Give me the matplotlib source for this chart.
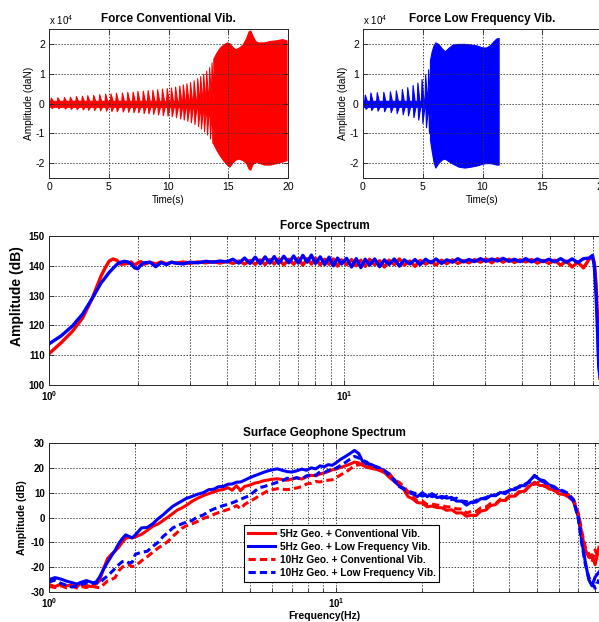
import numpy as np
import matplotlib
matplotlib.use("Agg")
import matplotlib.pyplot as plt
from matplotlib.ticker import NullFormatter, LogLocator

plt.rcParams['font.family'] = ['Liberation Sans', 'DejaVu Sans']
plt.rcParams['mathtext.fontset'] = 'custom'
plt.rcParams['mathtext.rm'] = 'Liberation Sans'
plt.rcParams['mathtext.bf'] = 'Liberation Sans:bold'
plt.rcParams['mathtext.it'] = 'Liberation Sans:italic'
plt.rcParams['axes.unicode_minus'] = False

# ---------------- data: force time series (units of 1e4 daN) ----------------
conv_spike_t = [0.15, 0.7, 1.25, 1.75, 2.25, 2.75, 3.2, 3.7, 4.2, 4.7, 5.15, 5.6, 6.1, 6.55,
                7.0, 7.4, 7.85, 8.25, 8.65, 9.05, 9.45, 9.85, 10.2, 10.55, 10.9, 11.2, 11.5,
                11.8, 12.1, 12.4, 12.65, 12.9, 13.15, 13.4, 13.6]
conv_spike_up = [0.2, 0.21, 0.22, 0.23, 0.25, 0.26, 0.28, 0.29, 0.31, 0.33, 0.34, 0.36, 0.37,
                 0.39, 0.4, 0.42, 0.43, 0.45, 0.46, 0.48, 0.5, 0.52, 0.54, 0.57, 0.6, 0.64,
                 0.68, 0.72, 0.78, 0.85, 0.92, 1.0, 1.1, 1.22, 1.38]
conv_spike_low = [-0.15, -0.16, -0.17, -0.18, -0.19, -0.2, -0.21, -0.22, -0.23, -0.24, -0.25,
                  -0.26, -0.27, -0.28, -0.29, -0.3, -0.32, -0.33, -0.35, -0.37, -0.39, -0.41,
                  -0.43, -0.46, -0.5, -0.54, -0.58, -0.63, -0.69, -0.76, -0.84, -0.93, -1.04,
                  -1.17, -1.32]
conv_env_t = [13.75, 14.0, 14.3, 14.6, 14.9, 15.1, 15.35, 15.6, 15.9, 16.2, 16.5, 16.7, 16.85,
              17.0, 17.25, 17.5, 18.0, 18.5, 19.0, 19.5, 19.88]
conv_env_up = [1.5, 1.7, 1.88, 1.98, 2.05, 2.02, 1.9, 1.82, 1.88, 1.98, 2.2, 2.42, 2.45, 2.3,
               2.1, 2.05, 2.05, 2.1, 2.12, 2.16, 2.12]
conv_env_low = [-1.35, -1.55, -1.75, -1.92, -2.05, -2.12, -1.98, -1.88, -1.85, -1.9, -2.0,
                -2.18, -2.22, -2.05, -1.95, -1.98, -2.05, -2.05, -2.0, -1.95, -1.9]

lf_spike_t = [0.15, 0.62, 1.15, 1.7, 2.25, 2.75, 3.25, 3.7, 4.15, 4.55, 4.9, 5.2, 5.45]
lf_spike_up = [0.3, 0.37, 0.38, 0.39, 0.41, 0.44, 0.49, 0.55, 0.62, 0.7, 0.82, 0.98, 1.15]
lf_spike_low = [-0.18, -0.22, -0.24, -0.26, -0.29, -0.32, -0.36, -0.4, -0.46, -0.54, -0.65,
                -0.8, -1.0]
lf_env_t = [5.6, 5.75, 5.9, 6.05, 6.3, 6.6, 6.85, 7.1, 7.5, 8.0, 8.5, 9.0, 9.5, 10.0, 10.3,
            10.6, 10.9, 11.15, 11.35]
lf_env_up = [1.45, 1.75, 1.95, 2.05, 2.0, 1.85, 1.75, 1.85, 1.98, 2.0, 2.0, 1.98, 1.95, 1.88,
             1.88, 1.95, 2.08, 2.18, 2.2]
lf_env_low = [-1.2, -1.6, -1.95, -2.15, -2.0, -1.88, -1.85, -1.92, -2.02, -2.12, -2.15, -2.12,
              -2.08, -2.02, -2.0, -2.0, -2.02, -2.05, -2.05]

time_ticks = [0, 5, 10, 15, 20]
force_ticks = [-2, -1, 0, 1, 2]

# ---------------- data: force spectrum (dB) ----------------
f_force = [1.0, 1.1, 1.2, 1.3, 1.4, 1.5, 1.55, 1.6, 1.65, 1.7,
           1.75, 1.8, 1.85, 1.9, 1.95, 2.0, 2.05, 2.1, 2.2, 2.3,
           2.4, 2.5, 2.6, 2.7, 2.85, 3.0, 3.2, 3.4, 3.6, 3.8,
           4.0, 4.2, 4.4, 4.6, 4.8, 5.0, 5.2, 5.4, 5.6, 5.8,
           6.0, 6.25, 6.5, 6.75, 7.0, 7.25, 7.5, 7.75, 8.0, 8.3,
           8.6, 8.9, 9.2, 9.5, 9.8, 10.2, 10.6, 11.0, 11.4, 11.8,
           12.2, 12.7, 13.2, 13.7, 14.2, 14.8, 15.4, 16.0, 16.7, 17.4,
           18.1, 18.9, 19.7, 20.5, 21.4, 22.3, 23.3, 24.3, 25.4, 26.5,
           27.7, 29.0, 30.3, 31.7, 33.1, 34.6, 36.2, 37.8, 39.5, 41.3,
           43.2, 45.2, 47.3, 49.5, 51.8, 54.2, 56.7, 59.3, 62.0, 64.8,
           67.8, 69.5, 70.5, 71.5, 72.3, 73.0, 73.8]
force_conv_db = [110.5, 114.2, 118.0, 122.5, 129.0, 136.5, 139.3, 141.6, 142.3, 141.8,
                 140.5, 140.6, 140.8, 141.3, 140.2, 141.0, 141.4, 140.5, 141.2, 140.6,
                 141.3, 140.7, 141.2, 140.9, 141.3, 140.8, 141.3, 141.0, 141.4, 140.9,
                 141.5, 140.8, 141.6, 140.6, 141.8, 140.5, 142.0, 140.4, 142.1, 140.6,
                 142.3, 140.3, 142.2, 140.5, 142.5, 140.2, 142.4, 140.6, 142.6, 140.3,
                 142.2, 140.5, 142.3, 139.9, 142.0, 140.4, 142.1, 140.0, 141.9, 139.8,
                 142.2, 140.3, 141.7, 139.6, 141.9, 140.4, 142.3, 140.2, 141.6, 139.8,
                 141.8, 140.6, 141.5, 140.3, 141.9, 140.7, 142.0, 140.8, 141.7, 141.0,
                 142.1, 141.2, 142.3, 141.0, 142.4, 141.2, 142.2, 141.1, 142.0, 141.3,
                 142.1, 140.9, 141.8, 140.8, 141.9, 140.2, 141.6, 139.6, 141.2, 139.3,
                 142.3, 143.0, 141.0, 134.0, 122.0, 108.0, 101.5]
force_lf_db = [113.8, 116.5, 119.8, 123.8, 129.0, 134.2, 136.0, 137.8, 139.2, 140.5,
               141.2, 141.5, 141.3, 140.6, 139.3, 139.0, 140.3, 141.0, 141.2, 139.7,
               141.1, 140.4, 141.2, 140.9, 140.6, 141.2, 141.0, 141.5, 141.2, 141.6,
               141.3, 142.2, 140.9, 142.6, 140.8, 142.9, 140.7, 143.0, 140.9, 143.1,
               140.8, 143.2, 141.0, 143.3, 140.9, 143.5, 141.2, 143.6, 140.8, 143.0,
               140.4, 142.9, 140.0, 142.6, 140.6, 142.5, 139.6, 142.4, 139.4, 142.2,
               140.2, 142.3, 139.7, 142.0, 140.4, 142.3, 139.9, 142.0, 140.6, 142.1,
               140.4, 142.2, 141.0, 142.3, 140.8, 142.0, 141.2, 142.4, 141.3, 142.1,
               141.4, 142.4, 141.5, 142.3, 141.6, 142.5, 141.5, 142.2, 141.4, 142.4,
               141.3, 142.3, 141.4, 142.2, 141.3, 142.4, 141.2, 142.3, 141.1, 142.4,
               142.6, 143.5, 140.0, 130.0, 118.0, 106.0, 102.5]
force_db_ticks = [100, 110, 120, 130, 140, 150]

# ---------------- data: surface geophone spectrum (dB) ----------------
f_geo = [1.0, 1.05, 1.1, 1.15, 1.2, 1.25, 1.3, 1.35, 1.4, 1.45, 1.5, 1.55, 1.6, 1.65, 1.7,
         1.75, 1.8, 1.85, 1.9, 1.95,
         2.0, 2.1, 2.2, 2.3, 2.4, 2.5, 2.6, 2.7, 2.8, 2.9, 3.0,
         3.15, 3.3, 3.45, 3.6, 3.75, 3.9, 4.05, 4.2, 4.35, 4.5, 4.65, 4.8,
         5.0, 5.2, 5.4, 5.6, 5.8, 6.0,
         6.25, 6.5, 6.75, 7.0,
         7.3, 7.6, 7.9, 8.2, 8.5, 8.8, 9.1, 9.4, 9.7, 10.0,
         10.4, 10.8, 11.2, 11.6, 12.0, 12.4, 12.8,
         13.3, 13.8, 14.3, 14.8,
         15.4, 16.0, 16.6, 17.2, 17.8,
         18.5, 19.2, 20.0, 20.8, 21.6, 22.5, 23.4, 24.3, 25.3, 26.3, 27.4, 28.5, 29.6, 30.8,
         32.0, 33.3, 34.6, 36.0, 37.4, 38.9, 40.5, 42.1, 43.8, 45.5, 47.3, 49.2, 51.2, 53.2,
         55.3, 57.5, 59.8, 62.2, 64.7, 67.3,
         70.0, 72.0, 74.0, 76.0, 78.0, 80.0, 82.5]
geo5_conv_db = [-27.0, -27.8, -26.8, -27.5, -27.2, -28.0, -26.2, -27.4, -27.8, -27.0, -25.5,
                -20.5, -16.5, -14.8, -13.5, -12.0, -10.0, -8.4, -8.0, -8.2,
                -7.8, -6.8, -5.2, -3.5, -2.6, -1.2, 0.2, 1.6, 3.0, 3.8, 4.8,
                6.5, 7.8, 8.8, 9.6, 10.3, 11.0, 11.3, 12.0, 11.0, 12.8, 10.8, 12.5,
                13.0, 13.8, 14.2, 14.8, 15.1, 15.4,
                15.6, 15.3, 15.0, 15.4,
                16.0, 15.5, 16.4, 17.0, 16.8, 17.5, 18.0, 18.5, 19.2, 19.5,
                20.2, 20.8, 21.5, 22.3, 22.0, 21.0, 20.2,
                19.8, 19.4, 18.8, 18.0,
                16.0, 14.5, 12.8, 11.5, 8.5,
                7.5, 6.0, 5.8, 4.3, 4.6, 4.0, 3.9, 2.9, 3.1, 1.8, 1.9, 0.5, 0.9, 0.8,
                2.6, 3.0, 4.8, 5.2, 7.0, 6.8, 8.6, 8.6, 10.4, 10.6, 12.6, 14.2, 12.9, 12.9,
                11.5, 11.1, 9.5, 9.3, 8.2, 6.6,
                1.0, -7.0, -13.0, -16.0, -15.0, -19.0, -12.0]
geo5_lf_db = [-25.0, -24.2, -24.8, -25.6, -26.2, -26.8, -26.0, -25.4, -26.0, -26.5, -24.0,
              -20.8, -18.0, -15.5, -13.2, -10.5, -8.5, -7.0, -7.6, -8.2,
              -7.0, -4.2, -4.0, -2.5, -0.5, 1.1, 2.9, 4.5, 5.6, 6.6, 7.6,
              8.5, 9.4, 10.0, 11.2, 11.4, 12.4, 12.5, 13.4, 13.5, 14.2, 14.3, 15.0,
              16.0, 16.8, 17.5, 18.2, 18.8, 19.2,
              19.6, 19.0, 18.5, 18.3,
              18.8, 19.5, 19.0, 20.0, 19.6, 20.8, 20.4, 21.3, 21.0, 22.0,
              23.5, 24.6, 25.8, 27.0, 25.8, 22.5, 21.5,
              21.3, 20.4, 19.6, 18.7,
              17.5, 14.5, 13.0, 11.8, 10.2,
              9.5, 8.4, 10.0, 8.4, 9.6, 8.0, 8.5, 7.8, 8.1, 6.6, 6.6, 5.0, 6.2, 6.2,
              7.6, 7.5, 8.8, 8.8, 10.1, 9.6, 11.2, 11.2, 12.8, 12.8, 14.8, 16.8, 15.3, 14.8,
              13.1, 12.5, 10.9, 10.5, 8.9, 6.5,
              0.0, -10.0, -18.0, -25.0, -27.5, -24.0, -22.0]
geo10_conv_db = [-27.7, -28.2, -27.5, -28.3, -27.6, -28.4, -27.8, -28.2, -27.5, -28.0, -28.3,
                 -27.0, -25.5, -25.0, -24.2, -21.5, -20.0, -19.2, -19.0, -19.8,
                 -19.5, -17.5, -15.8, -14.0, -12.3, -11.0, -9.6, -7.6, -6.0, -4.4, -3.4,
                 -2.6, -1.5, -0.4, 0.4, 1.2, 2.0, 2.6, 3.2, 3.8, 4.8, 3.5, 5.2,
                 6.5, 7.5, 8.8, 9.8, 10.8, 11.2,
                 11.6, 11.4, 11.2, 11.5,
                 11.9, 12.4, 13.5, 13.8, 14.5, 14.3, 14.8, 15.0, 15.2, 16.0,
                 17.2, 18.2, 19.5, 20.8, 21.2, 21.5, 20.8,
                 20.0, 19.6, 19.0, 18.5,
                 17.2, 15.0, 14.2, 12.5, 10.5,
                 8.4, 6.6, 6.6, 5.2, 5.4, 5.0, 4.8, 4.3, 4.2, 3.5, 3.4, 1.8, 2.4, 2.4,
                 3.9, 4.2, 5.6, 5.6, 7.4, 7.2, 9.0, 9.0, 10.8, 10.8, 13.0, 13.4, 14.1, 12.5,
                 12.5, 10.8, 10.5, 9.3, 9.1, 7.2,
                 1.5, -6.0, -12.0, -14.5, -18.0, -13.0, -17.0]
geo10_lf_db = [-26.0, -25.2, -26.5, -27.3, -28.0, -27.6, -27.0, -26.3, -26.8, -26.0, -26.5,
               -24.8, -23.5, -22.0, -20.5, -19.0, -17.8, -17.5, -18.3, -18.0,
               -14.8, -14.0, -13.6, -11.6, -10.0, -7.6, -6.0, -4.2, -3.3, -2.6, -1.9,
               -1.2, 0.3, 1.0, 2.5, 3.4, 4.2, 4.8, 5.3, 5.9, 6.6, 7.3, 8.0,
               8.8, 10.5, 12.0, 12.4, 13.0, 13.5,
               14.2, 14.8, 15.8, 15.6,
               16.0, 15.5, 16.8, 17.2, 17.0, 18.4, 18.0, 19.0, 19.3, 19.8,
               21.0, 22.2, 23.5, 24.6, 24.0, 23.0, 22.3,
               20.8, 20.5, 19.8, 18.8,
               16.5, 15.2, 12.5, 11.5, 10.8,
               10.0, 9.5, 8.6, 9.3, 8.4, 9.0, 7.8, 8.5, 7.2, 7.8, 6.6, 6.4, 5.6, 6.9,
               7.5, 8.0, 8.9, 9.0, 10.0, 10.2, 11.0, 11.8, 12.3, 13.4, 14.2, 17.0, 15.0, 14.2,
               13.0, 12.0, 11.4, 10.6, 9.6, 7.0,
               -1.0, -11.0, -19.0, -24.0, -26.5, -28.5, -25.0]
geo_db_ticks = [-30, -20, -10, 0, 10, 20, 30]
geo_labels = ["5Hz Geo. + Conventional Vib.", "5Hz Geo. + Low Frequency Vib.",
              "10Hz Geo. + Conventional Vib.", "10Hz Geo. + Low Frequency Vib."]

# ---------------- figure ----------------
W, H = 599, 622
fig = plt.figure(figsize=(W / 100, H / 100), dpi=100)


def px_axes(x0, y0, x1, y1):
    return fig.add_axes([x0 / W, 1 - y1 / H, (x1 - x0) / W, (y1 - y0) / H])


ax_tl = px_axes(49, 29, 288, 178)
ax_tr = px_axes(363, 29, 602, 178)
ax_m = px_axes(49, 236, 600, 385)
ax_b = px_axes(49, 443, 600, 592)

GRID = dict(ls=(0, (1.5, 1.8)), color='#333333', lw=0.65)


def base_style(ax, labelsize):
    ax.tick_params(which='both', direction='in', top=True, right=True, width=0.6,
                   colors='#262626', labelcolor='black', labelsize=labelsize, pad=3)
    ax.tick_params(which='major', length=3.5)
    ax.tick_params(which='minor', length=2)
    for s in ax.spines.values():
        s.set_linewidth(0.7)
        s.set_color('#262626')


def spike_curve(ts, peaks, base, offset, tail_t, tail_v):
    xs, ys = [0.0], [base]
    for t, p in zip(ts, peaks):
        xs += [t + offset - 0.05, t + offset, t + offset + 0.17]
        ys += [base, p, base]
    return np.array(xs + list(tail_t)), np.array(ys + list(tail_v))


def time_panel(ax, ts, ups, lows, et, eu, el, color, title):
    xu, yu = spike_curve(ts, ups, 0.09, 0.0, et, eu)
    xl, yl = spike_curve(ts, lows, -0.11, 0.07, et, el)
    ax.fill_between(xu, 0, yu, color=color, lw=0.8, edgecolor=color)
    ax.fill_between(xl, yl, 0, color=color, lw=0.8, edgecolor=color)
    ax.set_xlim(0, 20)
    ax.set_ylim(-2.5, 2.5)
    ax.set_xticks(time_ticks)
    ax.set_yticks(force_ticks)
    base_style(ax, 7.5)
    ax.grid(True, which='major', **GRID)
    ax.set_axisbelow(False)
    ax.set_title(title, fontsize=8.5, fontweight='bold', pad=5)
    ax.set_xlabel('Time(s)', fontsize=7, labelpad=2)
    ax.set_ylabel('Amplitude (daN)', fontsize=7.3, labelpad=1)
    ax.text(0.0, 1.012, r'x 10$^{4}$', transform=ax.transAxes, ha='left', va='bottom',
            fontsize=7)


time_panel(ax_tl, conv_spike_t, conv_spike_up, conv_spike_low, conv_env_t, conv_env_up,
           conv_env_low, '#ff0000', 'Force Conventional Vib.')
time_panel(ax_tr, lf_spike_t, lf_spike_up, lf_spike_low, lf_env_t, lf_env_up,
           lf_env_low, '#0000ff', 'Force Low Frequency Vib.')


def log_panel(ax, xmax, yticks, title, ylabel, ylabel_size):
    ax.set_xscale('log')
    ax.set_xlim(1, xmax)
    ax.set_ylim(yticks[0], yticks[-1])
    ax.xaxis.set_minor_locator(LogLocator(base=10, subs=np.arange(2, 10), numticks=20))
    ax.xaxis.set_minor_formatter(NullFormatter())
    ax.set_xticks([1, 10], [r'$\mathbf{10^{0}}$', r'$\mathbf{10^{1}}$'])
    ax.set_yticks(yticks, [str(v) for v in yticks], fontweight='bold')
    base_style(ax, 7)
    ax.grid(True, which='both', **GRID)
    ax.set_title(title, fontsize=8.5, fontweight='bold', pad=5)
    ax.set_ylabel(ylabel, fontsize=ylabel_size, fontweight='bold', labelpad=3)


ax_m.plot(f_force, force_conv_db, color='#ff0000', lw=2.4, solid_joinstyle='round')
ax_m.plot(f_force, force_lf_db, color='#0000ff', lw=2.4, solid_joinstyle='round')
log_panel(ax_m, 73.7, force_db_ticks, 'Force Spectrum', 'Amplitude (dB)', 10)
ax_m.yaxis.set_label_coords(-0.045, 0.6)

DASH = (0, (2.4, 1.3))
ax_b.plot(f_geo, geo5_conv_db, color='#ff0000', lw=2.2, label=geo_labels[0])
ax_b.plot(f_geo, geo5_lf_db, color='#0000ff', lw=2.2, label=geo_labels[1])
ax_b.plot(f_geo, geo10_conv_db, color='#ff0000', lw=2.2, ls=DASH, label=geo_labels[2])
ax_b.plot(f_geo, geo10_lf_db, color='#0000ff', lw=2.2, ls=DASH, label=geo_labels[3])
log_panel(ax_b, 83.2, geo_db_ticks, 'Surface Geophone Spectrum', 'Amplitude (dB)', 7.5)
ax_b.set_xlabel('Frequency(Hz)', fontsize=7.5, fontweight='bold', labelpad=1)

leg = ax_b.legend(loc='lower left', bbox_to_anchor=(0.354, 0.067), borderaxespad=0,
                  prop={'weight': 'bold', 'size': 7.3}, frameon=True, fancybox=False,
                  edgecolor='black', framealpha=1, handlelength=2.7, handletextpad=0.4,
                  borderpad=0.4, labelspacing=0.3)
leg.get_frame().set_linewidth(0.8)

fig.savefig('out.png', dpi=100)
